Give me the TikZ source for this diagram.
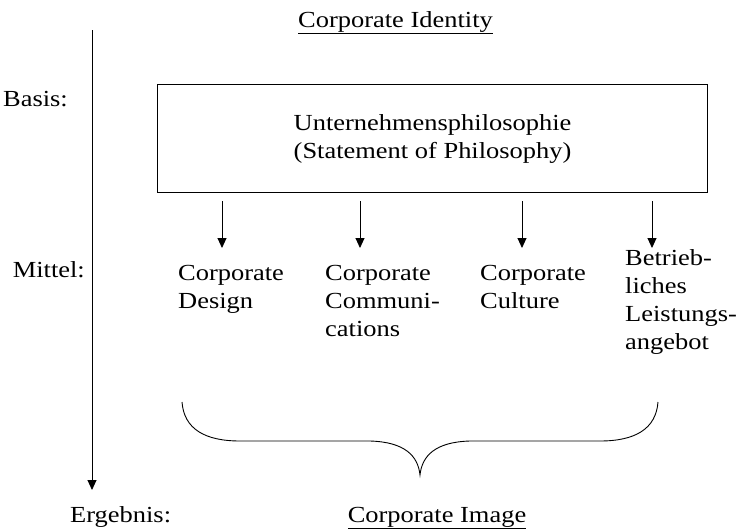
\documentclass[tikz,border=0pt]{standalone}
\usepackage{fontspec}
\setmainfont{Liberation Serif}[FakeStretch=1.15]
\usetikzlibrary{arrows.meta}
\begin{document}
\begin{tikzpicture}[x=1pt,y=-1pt,
  every node/.style={font=\fontsize{23}{28}\selectfont, inner sep=0pt},
  lbl/.style={anchor=base west},
  col/.style={anchor=north west, align=left},
  arr/.style={line width=0.9pt, -{Triangle[length=10pt,width=9pt]}},
  ln/.style={line width=0.9pt}]
\useasboundingbox (0,0) rectangle (740,531);
% left axis
\coordinate (axtop) at (92,30);
\coordinate (axend) at (92,490);
\draw[arr] (axtop) -- (axend);
% titles
\node[lbl] (ci) at (298,27) {\underline{Corporate Identity}};
\node[anchor=base] (cimg) at (437,522) {\underline{Corporate Image}};
% level labels
\node[anchor=base east] (basis) at (68,106) {Basis:};
\node[anchor=base east] (mittel) at (85,277) {Mittel:};
\node[lbl] (erg) at (70,522) {Ergebnis:};
% box
\node[draw, line width=1.1pt, minimum width=550pt, minimum height=108pt, align=center, anchor=north west]
  (box) at (157,84) {Unternehmensphilosophie\\(Statement of Philosophy)};
% columns
\node[col] (c1) at (178,265.5) {Corporate\\Design};
\node[col] (c2) at (325,265.5) {Corporate\\Communi-\\cations};
\node[col] (c3) at (480,265.5) {Corporate\\Culture};
\node[col] (c4) at (625,249.5) {Betrieb-\\liches\\Leistungs-\\angebot};
% arrows
\coordinate (e1) at (222,248);
\coordinate (e2) at (360,248);
\coordinate (e3) at (522,248);
\coordinate (e4) at (652,248);
\foreach \e in {e1,e2,e3,e4}
  \draw[arr] ([yshift=-8pt]box.south -| \e) -- (\e);
% brace
\coordinate (bl) at (182,402);
\coordinate (bt) at (420,475);
\coordinate (br) at (658,402);
\draw[ln] (bl) .. controls (184,429) and (205,441) .. (240,441) -- (370,441)
  .. controls (405,442) and (418,456) .. (bt)
  .. controls (422,456) and (435,442) .. (470,441) -- (600,441)
  .. controls (635,441) and (656,429) .. (br);
\end{tikzpicture}
\end{document}
